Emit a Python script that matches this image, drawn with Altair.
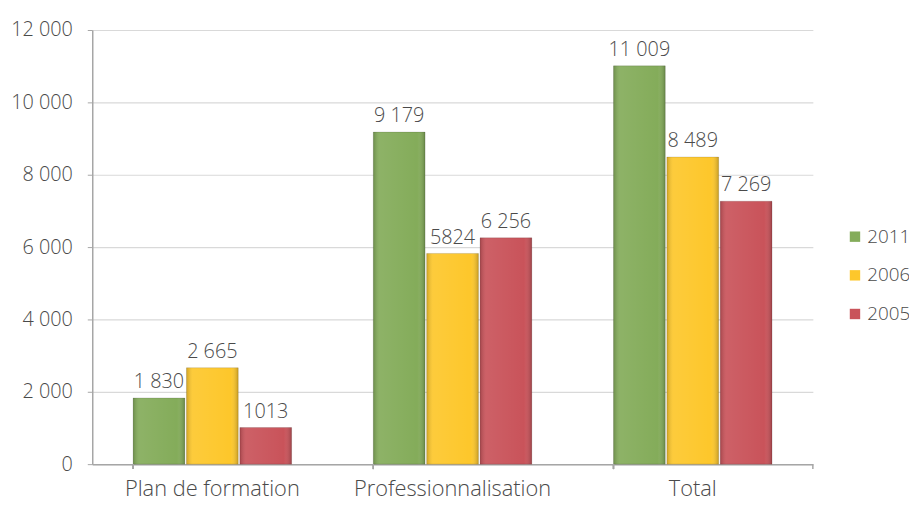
import altair as alt
import pandas as pd

categories = ["Plan de formation", "Professionnalisation", "Total"]
series = ["2011", "2006", "2005"]
values_2011 = [1830, 9179, 11009]
values_2006 = [2665, 5824, 8489]
values_2005 = [1013, 6256, 7269]
labels_2011 = ["1 830", "9 179", "11 009"]
labels_2006 = ["2 665", "5824", "8 489"]
labels_2005 = ["1013", "6 256", "7 269"]
colors = ["#84ac5a", "#fdc72b", "#c9535a"]
y_ticks = [0, 2000, 4000, 6000, 8000, 10000, 12000]

rows = []
for s, vals, labs in [("2011", values_2011, labels_2011),
                      ("2006", values_2006, labels_2006),
                      ("2005", values_2005, labels_2005)]:
    for c, v, l in zip(categories, vals, labs):
        rows.append({"cat": c, "serie": s, "value": v, "label": l})
df = pd.DataFrame(rows)

W, H = 727, 438
FONT = "Open Sans"
FW = 300
GREY = "#4a4a4a"

x_enc = alt.X("cat:N", sort=categories, title=None,
              scale=alt.Scale(paddingInner=0.34, paddingOuter=0.17),
              axis=alt.Axis(labelFont=FONT, labelFontSize=22, labelFontWeight=FW,
                            labelColor=GREY, labelAngle=0, ticks=False, labelPadding=15,
                            labelLimit=0,
                            domainColor="#a6a6a6", domainWidth=1.5, grid=False))
xoff = alt.XOffset("serie:N", sort=series, scale=alt.Scale(paddingInner=0.03))
y_enc = alt.Y("value:Q", title=None,
              scale=alt.Scale(domain=[0, 12000], nice=False),
              axis=alt.Axis(values=y_ticks, labelFont=FONT, labelFontSize=20,
                            labelFontWeight=FW,
                            labelColor=GREY, tickSize=5, tickColor="#a6a6a6",
                            labelPadding=15, domainColor="#a6a6a6", domainWidth=1.5,
                            gridColor="#d9d9d9", gridWidth=1.2,
                            labelExpr="replace(format(datum.value, ','), ',', ' ')"))

base = alt.Chart(df)

bars = base.mark_bar(stroke="#00000022", strokeWidth=1).encode(
    x=x_enc, xOffset=xoff, y=y_enc,
    color=alt.Color("serie:N", sort=series,
                    scale=alt.Scale(domain=series, range=colors),
                    legend=alt.Legend(title=None, orient="none", legendX=760, legendY=199,
                                      symbolType="square", symbolSize=110,
                                      symbolStrokeWidth=0, labelFont=FONT,
                                      labelFontSize=19, labelFontWeight=FW,
                                      labelColor=GREY,
                                      rowPadding=19, labelOffset=3)),
)

shade = base.mark_bar(
    color=alt.Gradient(
        gradient="linear", x1=0, x2=1, y1=0, y2=0,
        stops=[alt.GradientStop(color="rgba(0,0,0,0.18)", offset=0),
               alt.GradientStop(color="rgba(255,255,255,0.08)", offset=0.12),
               alt.GradientStop(color="rgba(255,255,255,0.0)", offset=0.85),
               alt.GradientStop(color="rgba(0,0,0,0.22)", offset=1)])
).encode(x=x_enc, xOffset=xoff, y=y_enc)

text = base.mark_text(baseline="bottom", dy=-6, font=FONT, fontSize=20, fontWeight=FW,
                      color=GREY).encode(
    x=x_enc, xOffset=xoff, y=y_enc, text="label:N")

bound = base.mark_rule(color="#a6a6a6", strokeWidth=1.5).encode(
    x=alt.X("cat:N", sort=categories, bandPosition=0),
    y=alt.value(H), y2=alt.value(H + 5))
end_tick = alt.Chart(pd.DataFrame({"a": [0]})).mark_rule(color="#a6a6a6", strokeWidth=1.5).encode(
    x=alt.value(W), y=alt.value(H), y2=alt.value(H + 5))

chart = alt.layer(bars, shade, text, bound, end_tick).properties(
    width=W, height=H,
    autosize=alt.AutoSizeParams(type="none"),
    padding={"left": 85, "top": 20, "right": 97, "bottom": 39},
).configure_view(stroke=None)

chart.save("out.html", embed_options={"renderer": "svg", "actions": False})
